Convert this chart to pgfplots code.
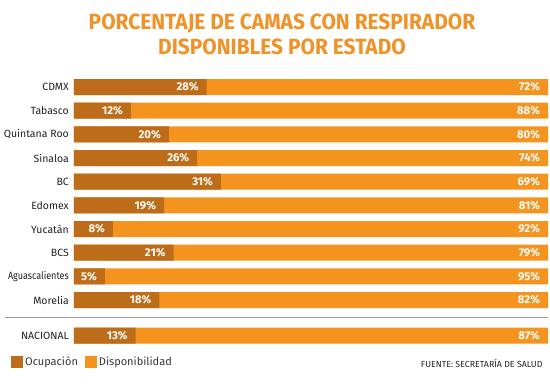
\documentclass[border=0pt]{standalone}
\usepackage{pgfplots}
\usepackage{pgfplotstable}
\pgfplotsset{compat=1.18}
\usepackage{fontspec}
\setmainfont{Fira Sans}
\newfontfamily\titlefont[FakeStretch=0.95]{Fira Sans}
\definecolor{darkc}{RGB}{189,109,26}
\definecolor{orangec}{RGB}{245,147,31}
\definecolor{titlec}{RGB}{240,146,40}
\definecolor{txt}{RGB}{34,34,34}
% bar = drawn length of the Ocupacion bar, occ/disp = printed shares, tot = full bar
\pgfplotstableread{
y bar occ disp tot
0 28 28 72 100
1 12 12 88 100
2 20 20 80 100
3 26 26 74 100
4 31 31 69 100
5 19 19 81 100
6 8.2 8 92 100
7 21 21 79 100
8 6.5 5 95 100
9 18 18 82 100
10.5 13 13 87 100
}\datatable
\begin{document}
\begin{tikzpicture}[x=1pt,y=1pt]
\useasboundingbox (0,0) rectangle (550,390);
\node[anchor=base, text=titlec, font=\titlefont\bfseries\fontsize{22}{24}\selectfont] at (282,360.7) {PORCENTAJE DE CAMAS CON RESPIRADOR};
\node[anchor=base, text=titlec, font=\titlefont\bfseries\fontsize{22}{24}\selectfont] at (282,335) {DISPONIBLES POR ESTADO};
\begin{axis}[
  at={(74pt,314.8pt)}, anchor=north west,
  scale only axis, width=474pt, height=272.2pt,
  xmin=0, xmax=100, ymin=-0.5, ymax=11,
  enlargelimits=false,
  y dir=reverse,
  xbar, bar width=16pt, bar shift=0pt,
  axis x line=none,
  axis y line*=left,
  y axis line style={draw=none},
  major tick length=0pt,
  ytick={0,1,2,3,4,5,6,7,8,9,10.5},
  yticklabels={CDMX,Tabasco,Quintana Roo,Sinaloa,BC,Edomex,Yucat\'an,BCS,{\addfontfeature{FakeStretch=0.86}Aguascalientes},Morelia,NACIONAL},
  yticklabel style={inner sep=0pt, xshift=-5pt, text=txt, font=\fontsize{10.5}{12}\selectfont},
  clip=false,
  /pgf/number format/assume math mode=true,
  legend columns=2,
  legend style={at={(axis cs:-13.3,11.62)}, anchor=west, draw=none, fill=none, inner sep=0pt,
    font=\fontsize{11}{13}\selectfont, text=txt!90,
    /tikz/every even column/.append style={column sep=5pt}},
  legend image code/.code={\fill[#1] (0pt,-6pt) rectangle (12pt,6pt);},
  lbl/.style={nodes near coords={\pgfmathprintnumber{\pgfplotspointmeta}\%},
    point meta=explicit,
    every node near coord/.append style={anchor=east, xshift=-4.5pt, text=white, font=\bfseries\fontsize{11.3}{13}\selectfont}},
]
\addlegendimage{fill=darkc, draw=none}
\addlegendentry{Ocupaci\'on}
\addlegendimage{fill=orangec, draw=none}
\addlegendentry{Disponibilidad}
\addplot[forget plot, fill=orangec, draw=none, lbl] table[x=tot, y=y, meta=disp] {\datatable};
\addplot[forget plot, fill=darkc, draw=none, lbl] table[x=bar, y=y, meta=occ] {\datatable};
\draw[color=gray!80, line width=0.8pt] (axis cs:-14.6,9.72) -- (axis cs:100,9.72);
\node[anchor=east, xshift=-2pt, text=txt, font=\fontsize{8.8}{10}\selectfont] at (axis cs:100,11.7) {FUENTE: SECRETAR\'IA DE SALUD};
\end{axis}
\end{tikzpicture}
\end{document}
